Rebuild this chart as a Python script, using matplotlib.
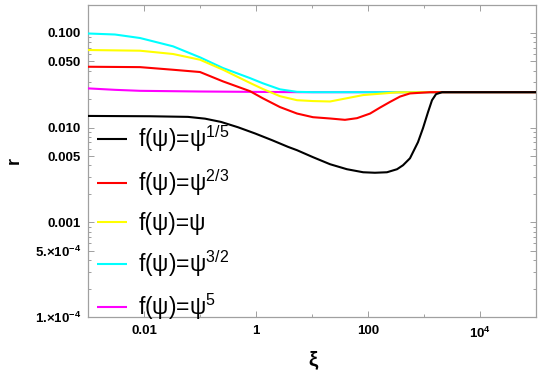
import matplotlib
matplotlib.use("Agg")
import matplotlib.pyplot as plt
from matplotlib.ticker import FixedLocator, NullFormatter

plt.rcParams['font.family'] = ['Liberation Sans', 'DejaVu Sans']
plt.rcParams['mathtext.default'] = 'regular'

# ---- data ----
xi_black = [0.001, 0.0128, 0.061, 0.123, 0.237, 0.477, 0.96, 1.93, 3.73, 5.4, 10.4, 21, 42, 82, 133,
            218, 330, 422, 562, 781, 960, 1180, 1390, 1640, 2100, 1e5]
r_black = [0.0133, 0.0132, 0.0130, 0.01245, 0.0115, 0.0101, 0.00869, 0.00738, 0.00627, 0.00578, 0.00488,
           0.00411, 0.00364, 0.00338, 0.00334, 0.00338, 0.00364, 0.00401, 0.00475, 0.00703, 0.00989,
           0.0146, 0.0195, 0.0226, 0.0237, 0.0237]

xi_red = [0.001, 0.00849, 0.033, 0.1, 0.258, 0.78, 1.33, 2.68, 5.4, 10.4, 21, 38.8, 63.7, 109, 164,
          247, 373, 562, 1280, 1e5]
r_red = [0.0440, 0.0436, 0.0409, 0.0387, 0.0308, 0.0243, 0.0204, 0.0165, 0.0141, 0.0129, 0.0125,
         0.0121, 0.0126, 0.0141, 0.0163, 0.0187, 0.0213, 0.0230, 0.0237, 0.0237]

xi_yellow = [0.001, 0.00849, 0.033, 0.1, 0.258, 0.78, 1.33, 2.68, 5.4, 10.4, 21, 82, 330, 850, 1e5]
r_yellow = [0.0661, 0.0650, 0.0600, 0.0522, 0.0409, 0.0297, 0.0256, 0.0215, 0.0195, 0.0191, 0.0189,
            0.0221, 0.0236, 0.0237, 0.0237]

xi_cyan = [0.001, 0.00303, 0.00849, 0.033, 0.1, 0.258, 0.78, 1.33, 2.68, 5.4, 10.4, 1e5]
r_cyan = [0.0988, 0.0964, 0.0885, 0.0723, 0.0553, 0.0426, 0.0334, 0.0294, 0.0254, 0.0239, 0.0237, 0.0237]

xi_magenta = [0.001, 0.00303, 0.00849, 0.1, 0.78, 6.1, 1e5]
r_magenta = [0.0260, 0.0251, 0.0245, 0.0241, 0.0239, 0.0237, 0.0237]

labels = ['f(ψ)=ψ$^{1/5}$', 'f(ψ)=ψ$^{2/3}$', 'f(ψ)=ψ', 'f(ψ)=ψ$^{3/2}$', 'f(ψ)=ψ$^{5}$']
colors = ['#000000', '#ff0000', '#ffff00', '#00ffff', '#ff00ff']

x_major = [1e-2, 1, 1e2, 1e4]
x_major_labels = ['0.01', '1', '100', '10$^{4}$']
x_minor = [1e-3, 1e-1, 1e1, 1e3, 1e5]
y_major = [1e-4, 5e-4, 1e-3, 5e-3, 1e-2, 5e-2, 1e-1]
y_major_labels = ['1.×10$^{-4}$', '5.×10$^{-4}$', '0.001', '0.005', '0.010', '0.050', '0.100']

# ---- figure ----
fig = plt.figure(figsize=(5.42, 3.73), dpi=100)
ax = fig.add_axes([88/542, 1-317/373, 448/542, 312.5/373])

series = [(xi_black, r_black), (xi_red, r_red), (xi_yellow, r_yellow), (xi_cyan, r_cyan),
          (xi_magenta, r_magenta)]
handles = []
for i, ((xs, ys), c, lab) in enumerate(zip(series, colors, labels)):
    h, = ax.plot(xs, ys, color=c, lw=1.5, label=lab, zorder=10-i, solid_capstyle='butt')
    handles.append(h)

ax.set_xscale('log')
ax.set_yscale('log')
ax.set_xlim(1e-3, 1e5)
ax.set_ylim(1e-4, 0.2)

ax.xaxis.set_major_locator(FixedLocator(x_major))
ax.set_xticklabels(x_major_labels)
ax.xaxis.set_minor_locator(FixedLocator(x_minor))
ax.xaxis.set_minor_formatter(NullFormatter())

y_minor = []
for dec in [1e-4, 1e-3, 1e-2, 1e-1]:
    for m in range(2, 10):
        v = m * dec
        if v <= 0.2 and m != 5:
            y_minor.append(v)
ax.yaxis.set_major_locator(FixedLocator(y_major))
ax.set_yticklabels(y_major_labels)
ax.yaxis.set_minor_locator(FixedLocator(y_minor))
ax.yaxis.set_minor_formatter(NullFormatter())

gray = '#a0a0a0'
for s in ax.spines.values():
    s.set_color(gray)
    s.set_linewidth(0.9)
ax.tick_params(which='both', direction='in', top=True, right=True, color=gray, width=0.7)
ax.tick_params(which='major', length=4)
ax.tick_params(which='minor', length=2.2)
ax.tick_params(axis='y', which='major', pad=5)
ax.tick_params(axis='x', which='major', pad=6)
for t in ax.get_xticklabels() + ax.get_yticklabels():
    t.set_fontweight('bold')
    t.set_fontsize(9.5)

ax.set_xlabel('ξ', fontsize=15, fontweight='bold')
ax.set_ylabel('r', fontsize=13, fontweight='bold')
ax.xaxis.set_label_coords(0.502, -0.105)
ax.yaxis.set_label_coords(-0.145, 0.5)

leg = ax.legend(handles=handles, loc='center left', bbox_to_anchor=(0.0, 0.301),
                frameon=False, fontsize=16.5, handlelength=1.3, handletextpad=0.5,
                labelspacing=0.58, borderpad=0, borderaxespad=0.4)
leg.set_zorder(20)

fig.savefig('out.png', dpi=100)
